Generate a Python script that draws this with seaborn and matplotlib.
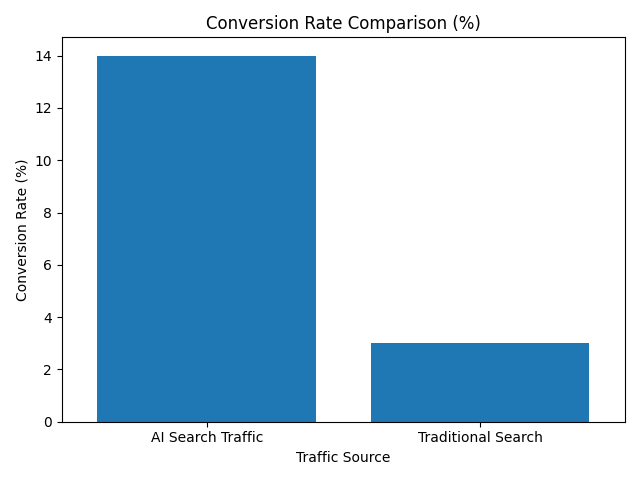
import matplotlib
matplotlib.use("Agg")
import matplotlib.pyplot as plt
import seaborn as sns
import pandas as pd

categories = ["AI Search Traffic", "Traditional Search"]
values = [14, 3]

df = pd.DataFrame({"Traffic Source": categories, "Conversion Rate (%)": values})

fig, ax = plt.subplots(figsize=(6.4, 4.8), dpi=100)
sns.barplot(data=df, x="Traffic Source", y="Conversion Rate (%)", color="#1f77b4",
            saturation=1, width=0.8, ax=ax)
ax.set_title("Conversion Rate Comparison (%)")
ax.set_xlabel("Traffic Source")
ax.set_ylabel("Conversion Rate (%)")
ax.set_xlim(-0.5 - 0.03, 1.5 + 0.03)
fig.tight_layout()
fig.savefig("out.png")
